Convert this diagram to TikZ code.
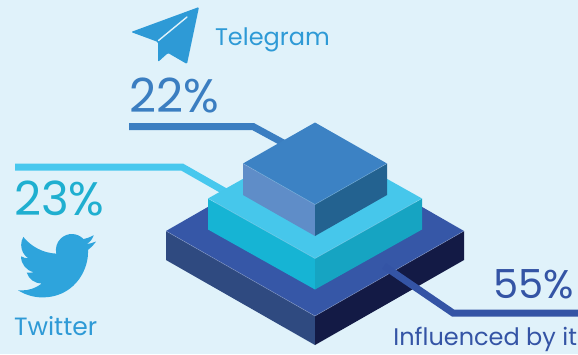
\documentclass[tikz,border=0pt]{standalone}
\usepackage{fontspec}
\setmainfont{Poppins}
\usetikzlibrary{svg.path}
\definecolor{bg}{HTML}{E0F2FA}
\definecolor{tgtext}{HTML}{2E9AD6}
\definecolor{tgline}{HTML}{3B7EC1}
\definecolor{twnum}{HTML}{1FAFD0}
\definecolor{twline}{HTML}{48C8EE}
\definecolor{twbird}{HTML}{2EA4DC}
\definecolor{inftext}{HTML}{3454A5}
\definecolor{bTop}{HTML}{3657A7}
\definecolor{bLeft}{HTML}{2F4A80}
\definecolor{bRight}{HTML}{131A45}
\definecolor{cTop}{HTML}{46C7EB}
\definecolor{cLeft}{HTML}{16B4D4}
\definecolor{cRight}{HTML}{16A4C2}
\definecolor{kTop}{HTML}{3C82C4}
\definecolor{kLeft}{HTML}{5F8DC8}
\definecolor{kRight}{HTML}{236290}
\tikzset{
  lbl/.style={inner sep=0pt, outer sep=0pt, anchor=base west},
  lead/.style={line width=7pt, line join=miter, line cap=butt},
  edge/.style={white, opacity=0.25, line width=0.6pt}
}
\begin{document}
\begin{tikzpicture}[x=1pt,y=-1pt]
\fill[bg] (0,0) rectangle (578,354);
\useasboundingbox (0,0) rectangle (578,354);

% leader line coordinates
\coordinate (tgA) at (129,126.5);
\coordinate (tgB) at (253,126.5);
\coordinate (tgC) at (300,152);
\coordinate (twA) at (15,167);
\coordinate (twB) at (182,167);
\coordinate (twC) at (240,200);
\coordinate (inA) at (384,266);
\coordinate (inB) at (453,313);
\coordinate (inC) at (578,313);

\draw[lead, tgline] (tgA) -- (tgB) -- (tgC);
\draw[lead, twline] (twA) -- (twB) -- (twC);

% bottom slab
\coordinate (b1) at (315,145.5);
\coordinate (l1) at (166,231);
\coordinate (f1) at (315,316);
\coordinate (r1) at (464,231);
\fill[bLeft] (l1) -- (f1) -- ([yshift=-29pt]f1) -- ([yshift=-29pt]l1) -- cycle;
\fill[bRight] (f1) -- (r1) -- ([yshift=-29pt]r1) -- ([yshift=-29pt]f1) -- cycle;
\fill[bTop] (b1) -- (l1) -- (f1) -- (r1) -- cycle;
\draw[edge] (l1) -- (f1) -- (r1);

\draw[lead, inftext] (inA) -- (inB) -- (inC);

% middle slab
\coordinate (b2) at (315,138.5);
\coordinate (l2) at (208,198.5);
\coordinate (f2) at (315,258.5);
\coordinate (r2) at (422,198.5);
\fill[cLeft] (l2) -- (f2) -- ([yshift=-31pt]f2) -- ([yshift=-31pt]l2) -- cycle;
\fill[cRight] (f2) -- (r2) -- ([yshift=-31pt]r2) -- ([yshift=-31pt]f2) -- cycle;
\fill[cTop] (b2) -- (l2) -- (f2) -- (r2) -- cycle;
\draw[edge] (l2) -- (f2) -- (r2);

% top cube
\coordinate (b3) at (315,122.5);
\coordinate (l3) at (243,163.5);
\coordinate (f3) at (315,204.5);
\coordinate (r3) at (387,163.5);
\fill[kLeft] (l3) -- (f3) -- ([yshift=-31.5pt]f3) -- ([yshift=-31.5pt]l3) -- cycle;
\fill[kRight] (f3) -- (r3) -- ([yshift=-31.5pt]r3) -- ([yshift=-31.5pt]f3) -- cycle;
\fill[kTop] (b3) -- (l3) -- (f3) -- (r3) -- cycle;
\draw[edge] (l3) -- (f3) -- (r3);

% telegram plane
\fill[tgtext, rounded corners=1.2pt] (199,7) -- (131,32) -- (150,39) -- (158,42) -- (158,62) -- (168,53) -- (187,64) -- cycle;
\draw[bg, line width=1.4pt, line cap=round] (187,17) -- (158.5,40.5);

% twitter bird
\begin{scope}[shift={(18,226.7)}, scale=3.25]
\fill[twbird] svg {M 23.953 -4.57
a 10 10 0 0 0 -2.825 -0.775
a 4.958 4.958 0 0 1 2.163 2.723
c -0.951 -0.555 -2.005 -0.959 -3.127 -1.184
a 4.92 4.92 0 0 1 -8.384 -4.482
C 7.69 -8.095 4.067 -6.13 1.64 -3.162
a 4.822 4.822 0 0 1 -0.666 -2.475
c 0 -1.71 0.87 -3.213 2.188 -4.096
a 4.904 4.904 0 0 0 -2.228 0.616
v -0.06
a 4.923 4.923 0 0 1 3.946 -4.827
a 4.996 4.996 0 0 0 -2.212 -0.085
a 4.936 4.936 0 0 1 4.604 -3.417
a 9.867 9.867 0 0 0 -6.102 -2.105
c -0.39 0 -0.779 0.023 -1.17 0.067
a 13.995 13.995 0 0 1 7.557 -2.209
c 9.053 0 13.998 7.496 13.998 13.985
c 0 0.21 0 0.42 -0.015 0.63
A 9.935 9.935 0 0 1 24 -4.59 z};
\end{scope}

% texts
\node[lbl, text=tgtext, font=\fontsize{24}{24}\selectfont] (telegram) at (215,45) {Telegram};
\node[lbl, text=tgline, font=\fontsize{47}{47}\selectfont] (p22) at (129,112) {22\%};
\node[lbl, text=twnum, font=\fontsize{47}{47}\selectfont] (p23) at (14,215.5) {23\%};
\node[lbl, text=tgtext, font=\fontsize{25}{25}\selectfont] (twitter) at (14,335) {Twitter};
\node[lbl, anchor=base east, text=inftext, font=\fontsize{40}{40}\selectfont] (p55) at (574,298.5) {55\%};
\node[lbl, anchor=base east, text=inftext, font=\fontsize{24}{24}\selectfont] (infl) at (577,345) {Influenced by it};
\end{tikzpicture}
\end{document}
